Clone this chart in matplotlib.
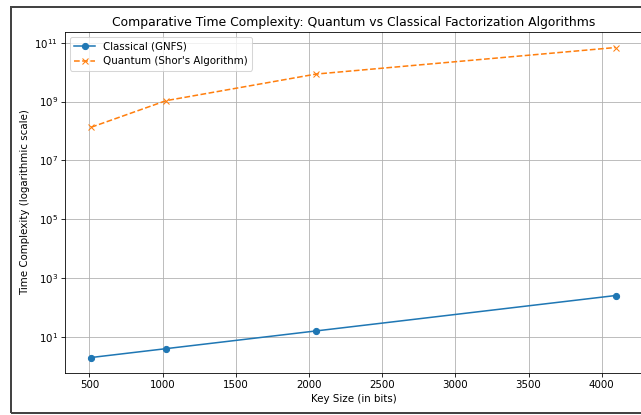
import matplotlib
matplotlib.use("Agg")
import matplotlib.pyplot as plt
from matplotlib.patches import Rectangle

# key sizes in bits
key_sizes = [512, 1024, 2048, 4096]
# estimated operation counts
classical_gnfs = [2, 4, 16, 256]
quantum_shor = [512**3, 1024**3, 2048**3, 4096**3]

DPI = 74
fig = plt.figure(figsize=(641 / DPI, 415 / DPI), dpi=DPI)
ax = fig.add_axes([65 / 641, 1 - 373 / 415, 577 / 641, 341 / 415])

ax.plot(key_sizes, classical_gnfs, marker='o', label='Classical (GNFS)')
ax.plot(key_sizes, quantum_shor, marker='x', linestyle='--', label="Quantum (Shor's Algorithm)")
ax.set_yscale('log')
ax.set_xlabel('Key Size (in bits)')
ax.set_ylabel('Time Complexity (logarithmic scale)')
ax.set_title('Comparative Time Complexity: Quantum vs Classical Factorization Algorithms')
ax.legend(loc='upper left')
ax.grid(True)

# dark frame around the figure
frame = Rectangle((11 / 641, 2 / 415), 700 / 641, 406 / 415, transform=fig.transFigure,
                  fill=False, edgecolor='#444444', linewidth=2 * 72 / DPI, clip_on=False)
fig.patches.append(frame)

fig.savefig('out.png', dpi=DPI)
